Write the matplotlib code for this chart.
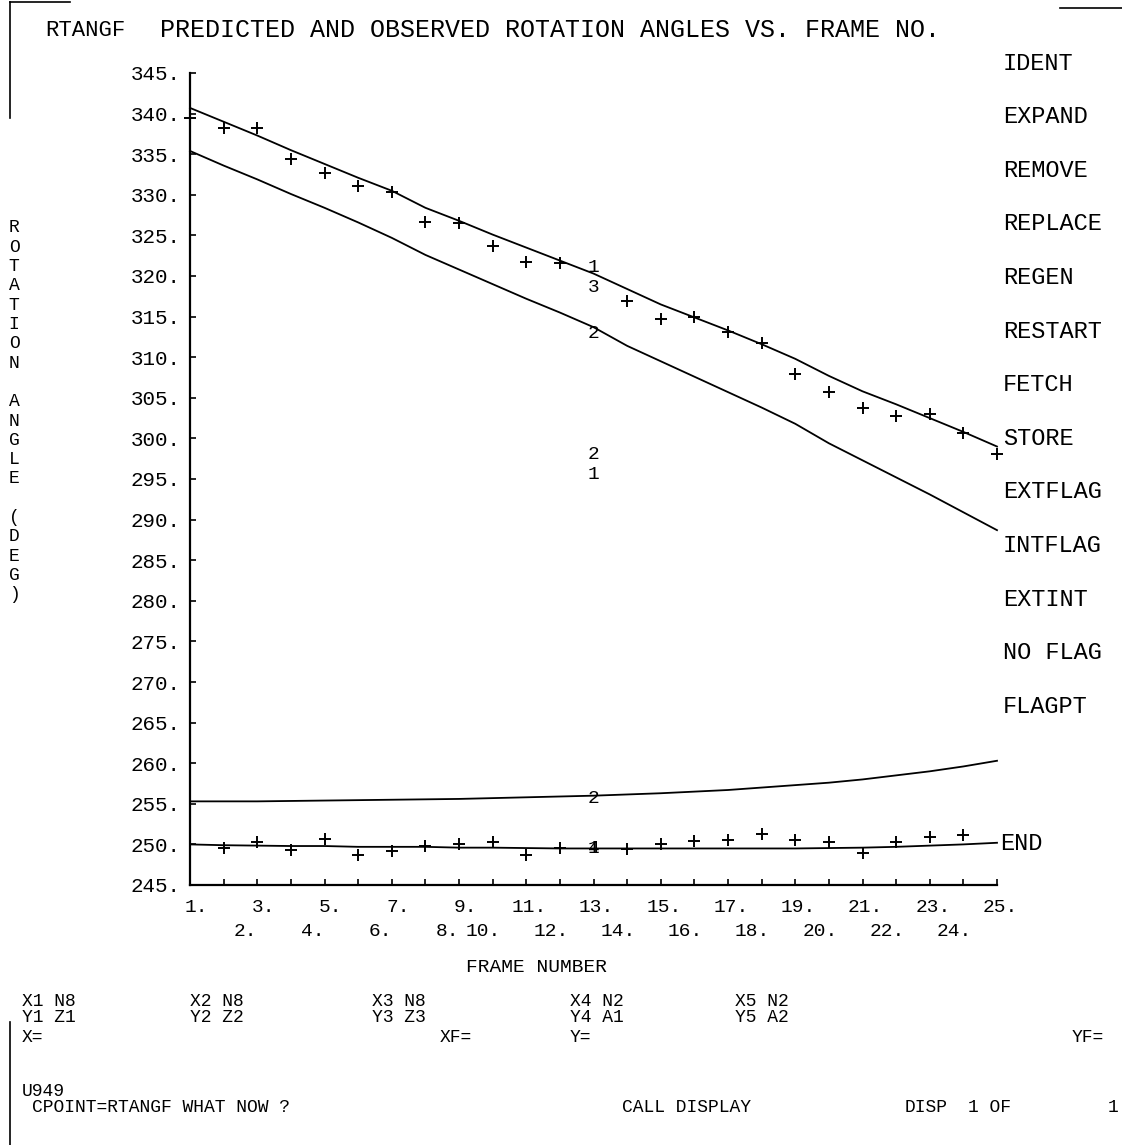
import numpy as np
import matplotlib
matplotlib.use("Agg")
import matplotlib.pyplot as plt
from matplotlib.lines import Line2D

plt.rcParams['font.family'] = ['Liberation Mono', 'DejaVu Sans Mono']

W, H = 1122, 1145

# data
frames = list(range(1, 26))

pred_upper = [340.7, 339.0, 337.3, 335.5, 333.8, 332.1, 330.5, 328.4, 326.8, 325.1,
              323.5, 321.9, 320.3, 318.4, 316.5, 314.9, 313.3, 311.6, 309.8, 307.7,
              305.8, 304.2, 302.5, 300.8, 299.0]
pred_lower = [335.4, 333.6, 331.9, 330.1, 328.4, 326.6, 324.7, 322.6, 320.8, 319.0,
              317.2, 315.5, 313.7, 311.4, 309.5, 307.6, 305.7, 303.8, 301.8, 299.4,
              297.3, 295.2, 293.1, 290.9, 288.7]
obs_upper = [339.5, 338.2, 338.2, 334.4, 332.7, 331.1, 330.3, 326.6, 326.5, 323.7,
             321.7, 321.6, np.nan, 316.9, 314.7, 315.0, 313.1, 311.7, 307.9, 305.7,
             303.7, 302.8, 303.0, 300.7, 298.1]

pred_curve = [255.3, 255.3, 255.3, 255.35, 255.4, 255.45, 255.5, 255.55, 255.6, 255.7,
              255.8, 255.9, 256.0, 256.15, 256.3, 256.5, 256.7, 257.0, 257.3, 257.6,
              258.0, 258.5, 259.0, 259.6, 260.3]
pred_flat = [250.0, 249.9, 249.85, 249.8, 249.8, 249.7, 249.7, 249.7, 249.6, 249.6,
             249.55, 249.5, 249.5, 249.5, 249.5, 249.5, 249.5, 249.5, 249.5, 249.55,
             249.6, 249.7, 249.85, 250.0, 250.2]
obs_flat = [np.nan, 249.6, 250.3, 249.3, 250.7, 248.7, 249.2, 249.8, 250.1, 250.3,
            248.7, 249.6, np.nan, 249.4, 250.1, 250.4, 250.5, 251.3, 250.5, 250.3,
            248.9, 250.3, 250.9, 251.2, np.nan]

yticks = list(range(245, 346, 5))

menu = ["IDENT", "EXPAND", "REMOVE", "REPLACE", "REGEN", "RESTART", "FETCH",
        "STORE", "EXTFLAG", "INTFLAG", "EXTINT", "NO FLAG", "FLAGPT"]

curve_tags = [(13, 321.0, "1"), (13, 318.6, "3"), (13, 312.9, "2"),
              (13, 298.0, "2"), (13, 295.6, "1"), (13, 255.7, "2"),
              (13, 249.5, "1"), (13, 249.5, "4")]

ylabel = "ROTATION ANGLE (DEG)"

footer = [(22, 1002, "X1 N8"), (190, 1002, "X2 N8"), (372, 1002, "X3 N8"),
          (570, 1002, "X4 N2"), (735, 1002, "X5 N2"),
          (22, 1018, "Y1 Z1"), (190, 1018, "Y2 Z2"), (372, 1018, "Y3 Z3"),
          (570, 1018, "Y4 A1"), (735, 1018, "Y5 A2"),
          (22, 1037, "X="), (440, 1037, "XF="), (570, 1037, "Y="), (1072, 1037, "YF="),
          (22, 1092, "U949"), (32, 1108, "CPOINT=RTANGF WHAT NOW ?"),
          (622, 1108, "CALL DISPLAY"), (905, 1108, "DISP"), (968, 1108, "1 OF"),
          (1108, 1108, "1")]


def fx(x):
    return x / W


def fy(y):
    return 1 - y / H


fig = plt.figure(figsize=(W / 100, H / 100), dpi=100)
fig.patch.set_facecolor("white")
ax = fig.add_axes([fx(190), fy(885), 807 / W, 812 / H])

ax.set_xlim(1, 25)
ax.set_ylim(245, 345)
for s in ["top", "right"]:
    ax.spines[s].set_visible(False)
for s in ["left", "bottom"]:
    ax.spines[s].set_linewidth(1.6)

ax.set_yticks(yticks)
ax.set_yticklabels([f"{v}." for v in yticks], fontsize=15)
ax.set_xticks(frames)
ax.set_xticklabels([])
ax.tick_params(axis="both", direction="in", length=4, width=1.2)
ax.tick_params(axis="y", pad=7)

lk = dict(color="black", lw=1.3, clip_on=False)
ax.plot(frames, pred_upper, **lk)
ax.plot(frames, pred_lower, **lk)
ax.plot(frames, pred_curve, **lk)
ax.plot(frames, pred_flat, **lk)
mk = dict(ls="none", marker="+", ms=8, mew=1.4, color="black", clip_on=False)
ax.plot(frames, obs_upper, **mk)
ax.plot(frames, obs_flat, **mk)

for xf, yv, t in curve_tags:
    ax.text(xf, yv, t, fontsize=14, ha="center", va="center")

# x tick labels in two staggered rows
for f in frames:
    lab = f"{f}."
    if f % 2 == 1:
        dx = 6 if f < 10 else 3
        yrow = -23
    else:
        dx = 22 if f < 10 else -9
        yrow = -47
    ax.text(f + dx / 33.6, yrow / 812, lab, transform=ax.get_xaxis_transform(),
            fontsize=14, ha="center", va="center")

fig.text(fx(537), fy(968), "FRAME NUMBER", fontsize=14, ha="center", va="center")

for i, ch in enumerate(ylabel):
    fig.text(fx(14), fy(228 + 19.3 * i), ch, fontsize=13, ha="center", va="center")

fig.text(fx(45), fy(30), "RTANGF", fontsize=16, ha="left", va="center")
fig.text(fx(160), fy(30), "PREDICTED AND OBSERVED ROTATION ANGLES VS. FRAME NO.",
         fontsize=18, ha="left", va="center")

for i, name in enumerate(menu):
    fig.text(fx(1003), fy(63 + 53.6 * i), name, fontsize=17, ha="left", va="center")
fig.text(fx(1000), fy(843), "END", fontsize=17, ha="left", va="center")

for x, y, t in footer:
    fig.text(fx(x), fy(y), t, fontsize=13, ha="left", va="center")

# screen frame fragments
for xs, ys in [([10, 10], [2, 118]), ([10, 70], [2, 2]), ([1060, 1122], [8, 8]),
               ([10, 10], [1022, 1145])]:
    fig.add_artist(Line2D([fx(v) for v in xs], [fy(v) for v in ys],
                          transform=fig.transFigure, color="black", lw=1.2))

fig.savefig("out.png", dpi=100, facecolor="white")
